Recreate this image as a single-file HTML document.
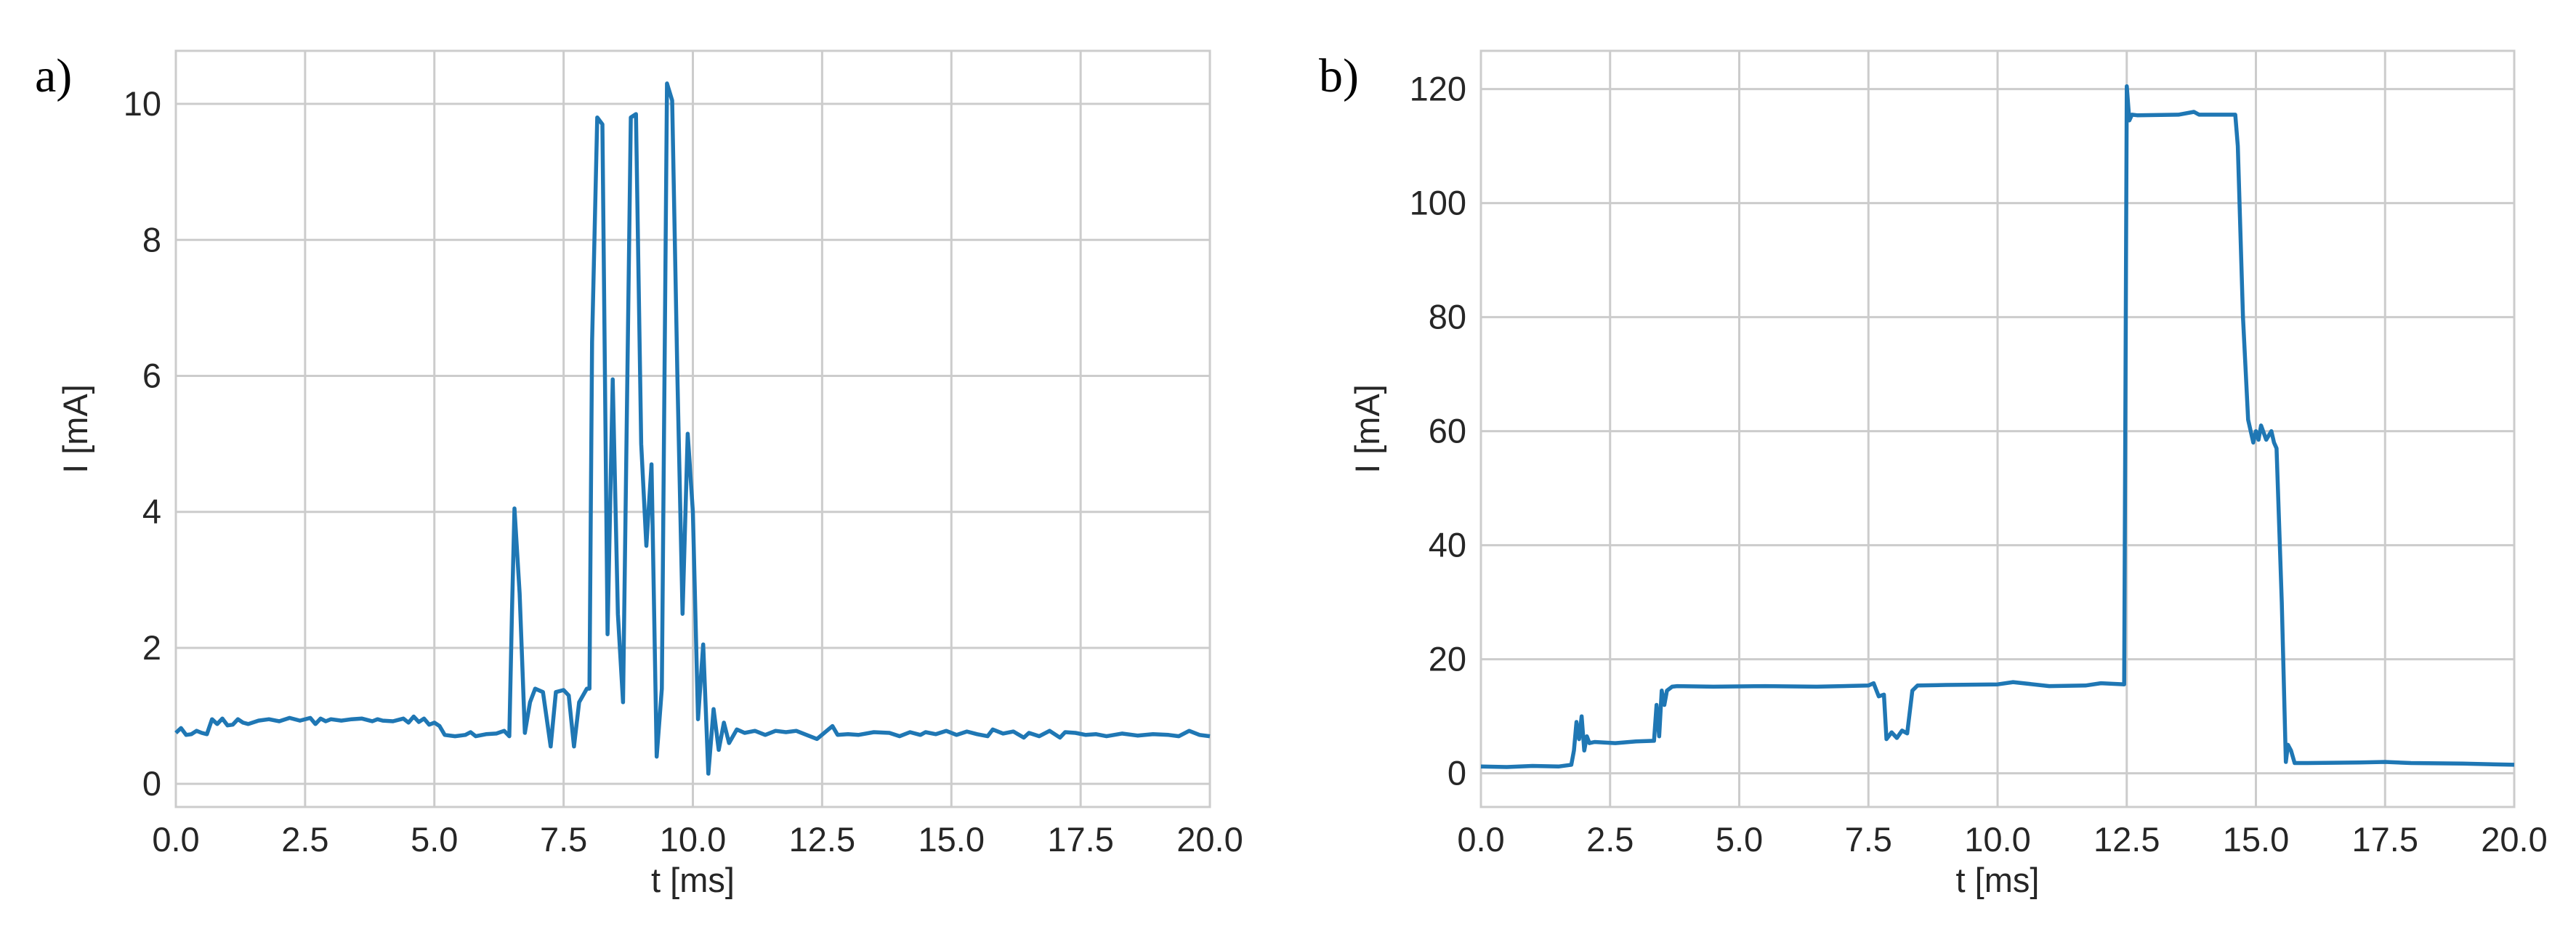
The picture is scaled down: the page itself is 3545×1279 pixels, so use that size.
<!DOCTYPE html>
<html><head><meta charset="utf-8"><style>
html,body{margin:0;padding:0;background:#fff;}
svg{display:block;font-family:"Liberation Sans",Arial,sans-serif;}
</style></head><body>
<svg id="fig" width="3545" height="1279" viewBox="0 0 3545 1279"></svg>
<script>
const xTicks=[0,2.5,5,7.5,10,12.5,15,17.5,20];
const xTickLabels=["0.0","2.5","5.0","7.5","10.0","12.5","15.0","17.5","20.0"];
const aYTicks=[0,2,4,6,8,10];
const bYTicks=[0,20,40,60,80,100,120];
const aT=[0,0.1,0.2,0.3,0.4,0.5,0.6,0.7,0.8,0.9,1.0,1.1,1.2,1.3,1.4,1.6,1.8,2.0,2.2,2.4,2.6,2.7,2.8,2.9,3.0,3.2,3.4,3.6,3.8,3.9,4.0,4.2,4.4,4.5,4.6,4.7,4.8,4.9,5.0,5.1,5.2,5.4,5.6,5.7,5.8,6.0,6.2,6.35,6.45,6.5,6.55,6.65,6.75,6.85,6.95,7.1,7.25,7.35,7.5,7.6,7.7,7.8,7.95,8.0,8.05,8.15,8.25,8.35,8.45,8.55,8.65,8.8,8.9,9.0,9.1,9.2,9.3,9.4,9.5,9.6,9.7,9.8,9.9,10.0,10.1,10.2,10.3,10.4,10.5,10.6,10.7,10.85,11.0,11.2,11.4,11.6,11.8,12.0,12.2,12.4,12.7,12.8,13.0,13.2,13.5,13.8,14.0,14.2,14.4,14.5,14.7,14.9,15.1,15.3,15.5,15.7,15.8,16.0,16.2,16.4,16.5,16.7,16.9,17.1,17.2,17.4,17.6,17.8,18.0,18.3,18.6,18.9,19.2,19.4,19.6,19.8,20.0];
const aI=[0.75,0.82,0.72,0.73,0.78,0.75,0.73,0.95,0.88,0.96,0.86,0.87,0.95,0.9,0.88,0.93,0.95,0.92,0.97,0.93,0.97,0.88,0.96,0.92,0.95,0.93,0.95,0.96,0.92,0.95,0.93,0.92,0.96,0.9,0.99,0.91,0.96,0.87,0.9,0.85,0.72,0.7,0.72,0.76,0.7,0.73,0.74,0.78,0.7,2.5,4.05,2.8,0.75,1.2,1.4,1.35,0.55,1.35,1.38,1.3,0.55,1.2,1.4,1.4,6.5,9.8,9.7,2.2,5.95,2.5,1.2,9.8,9.85,5.0,3.5,4.7,0.4,1.4,10.3,10.05,6.0,2.5,5.15,4.0,0.95,2.05,0.15,1.1,0.5,0.9,0.6,0.8,0.75,0.78,0.72,0.78,0.76,0.78,0.72,0.66,0.85,0.72,0.73,0.72,0.76,0.75,0.7,0.76,0.72,0.76,0.73,0.78,0.72,0.77,0.73,0.7,0.8,0.74,0.77,0.68,0.75,0.7,0.78,0.68,0.76,0.75,0.72,0.73,0.7,0.74,0.71,0.73,0.72,0.7,0.78,0.72,0.7];
const bT=[0,0.5,1.0,1.5,1.75,1.8,1.85,1.9,1.95,2.0,2.05,2.1,2.2,2.6,3.0,3.35,3.4,3.45,3.5,3.55,3.6,3.7,3.8,4.5,5.5,6.5,7.5,7.6,7.7,7.8,7.85,7.95,8.05,8.15,8.25,8.35,8.45,9.0,10.0,10.3,11.0,11.7,12.0,12.45,12.5,12.55,12.6,12.7,13.5,13.8,13.9,14.6,14.65,14.75,14.85,14.95,15.0,15.05,15.1,15.2,15.3,15.35,15.4,15.5,15.58,15.62,15.68,15.75,16,17,17.5,18,19,20];
const bI=[1.2,1.1,1.3,1.2,1.5,4,9,6,10,4,6.5,5.3,5.5,5.3,5.6,5.7,12,6.5,14.5,12,14.5,15.2,15.3,15.2,15.3,15.2,15.4,15.8,13.5,13.8,6,7.2,6.2,7.5,7.0,14.5,15.4,15.5,15.6,16,15.3,15.4,15.8,15.6,120.5,114.5,115.5,115.4,115.5,116,115.5,115.5,110,80,62,58,60,58.5,61,58.5,60,58,57,30,2,5,4,1.8,1.8,1.9,2.0,1.8,1.7,1.5];
const NS="http://www.w3.org/2000/svg";
const svg=document.getElementById('fig');
function mk(tag,attrs,parent){const e=document.createElementNS(NS,tag);for(const k in attrs)e.setAttribute(k,attrs[k]);(parent||svg).appendChild(e);return e;}
function panel(id,L,R,T,B,xmin,xmax,ymin,ymax,yTicks,ts,vs,letter,letterX,ylOff){
 const g=mk('g',{});
 
 
 const sx=v=>L+(v-xmin)/(xmax-xmin)*(R-L);
 const sy=v=>B-(v-ymin)/(ymax-ymin)*(B-T);
 xTicks.forEach((v,i)=>{
  const l=mk('line',{x1:sx(v),x2:sx(v),y1:T,y2:B,stroke:'#cccccc','stroke-width':3},g);
  
  
  const t=mk('text',{x:sx(v),y:1172,'font-size':47,'text-anchor':'middle',fill:'#262626'},g);
  t.textContent=xTickLabels[i];
  
  
 });
 yTicks.forEach(v=>{
  const l=mk('line',{x1:L,x2:R,y1:sy(v),y2:sy(v),stroke:'#cccccc','stroke-width':3},g);
  
  
  const t=mk('text',{x:L-20,y:sy(v)+16,'font-size':47,'text-anchor':'end',fill:'#262626'},g);
  t.textContent=String(v);
  
  
 });
 const fr=mk('rect',{x:L,y:T,width:R-L,height:B-T,fill:'none',stroke:'#cccccc','stroke-width':3},g);
 
 
 const pts=ts.map((t,i)=>sx(t).toFixed(1)+','+sy(vs[i]).toFixed(1)).join(' ');
 const pl=mk('polyline',{points:pts,fill:'none',stroke:'#1f77b4','stroke-width':5.5,'stroke-linejoin':'round'},g);
 
 
 const xl=mk('text',{x:(L+R)/2,y:1228,'font-size':47,'text-anchor':'middle',fill:'#262626'},g);
 xl.textContent='t [ms]';
 
 
 const cy=(T+B)/2, lx=L-ylOff;
 const yl=mk('text',{x:lx,y:cy,'font-size':47,'text-anchor':'middle',fill:'#262626',transform:'rotate(-90 '+lx+' '+cy+')'},g);
 yl.textContent='I [mA]';
 
 
 const pl2=mk('text',{x:letterX,y:126,'font-size':66,'font-family':'Liberation Serif, serif',fill:'#000'},g);
 pl2.textContent=letter;
 
 
}
panel('a',242,1665,70,1111,0,20,-0.34,10.78,aYTicks,aT,aI,'a)',48,122);
panel('b',2038,3460,70,1111,0,20,-5.9,126.7,bYTicks,bT,bI,'b)',1815,140);
</script>
</body></html>
